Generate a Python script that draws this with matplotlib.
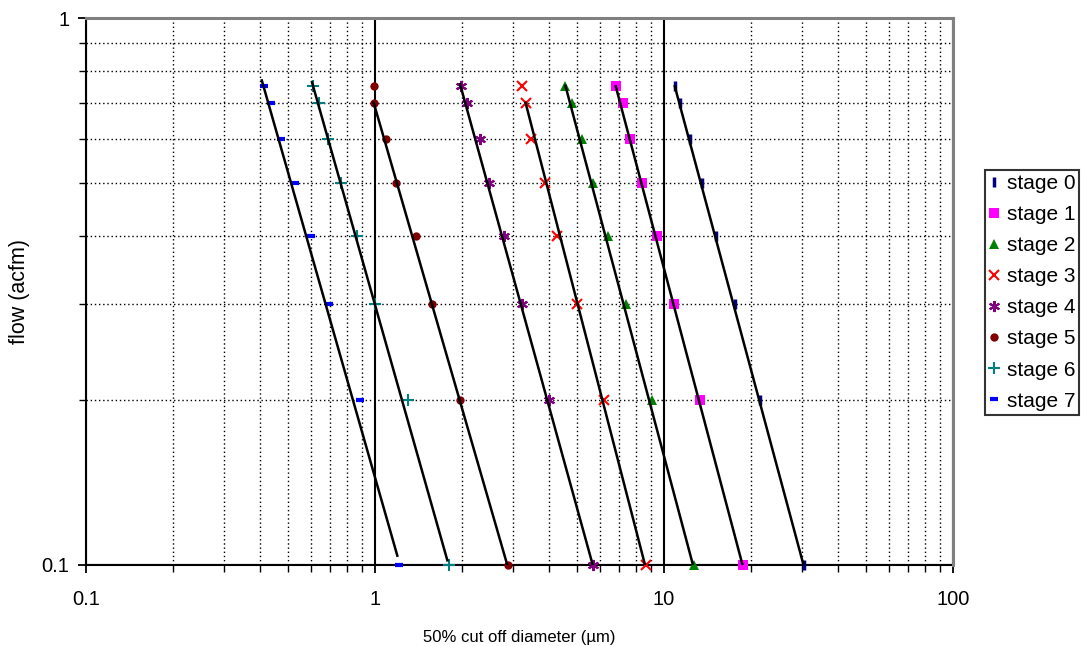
import numpy as np
import matplotlib.pyplot as plt

plt.rcParams['font.family'] = ['Liberation Sans', 'DejaVu Sans']

flow = [0.75, 0.7, 0.6, 0.5, 0.4, 0.3, 0.2, 0.1]

# 50% cut off diameter (um) read at each flow, per stage
stage0 = [10.9, 11.4, 12.3, 13.5, 15.1, 17.6, 21.5, 30.4]
stage1 = [6.81, 7.19, 7.62, 8.37, 9.43, 10.8, 13.3, 18.8]
stage2 = [4.56, 4.80, 5.22, 5.68, 6.41, 7.38, 9.07, 12.75]
stage3 = [3.22, 3.32, 3.47, 3.89, 4.26, 5.02, 6.21, 8.70]
stage4 = [1.98, 2.09, 2.30, 2.48, 2.79, 3.22, 4.00, 5.67]
stage5 = [0.995, 0.99, 1.09, 1.18, 1.39, 1.57, 1.97, 2.89]
stage6 = [0.609, 0.639, 0.688, 0.764, 0.868, 0.998, 1.30, 1.80]
stage7 = [0.414, 0.438, 0.473, 0.528, 0.599, 0.696, 0.885, 1.21]

# fitted curve end points (start / end) per stage
fit_d_start = [10.9, 6.81, 4.56, 3.32, 1.97, 0.99, 0.606, 0.406]
fit_q_start = [0.75, 0.75, 0.752, 0.70, 0.757, 0.70, 0.762, 0.769]
fit_d_end = [30.4, 18.7, 12.6, 8.6, 5.67, 2.87, 1.78, 1.195]
fit_q_end = [0.1, 0.1, 0.1, 0.1, 0.1, 0.1, 0.102, 0.104]

labels = ['stage 0', 'stage 1', 'stage 2', 'stage 3',
          'stage 4', 'stage 5', 'stage 6', 'stage 7']
stages = [stage0, stage1, stage2, stage3, stage4, stage5, stage6, stage7]

styles = [
    dict(marker='|', color='#000080', ms=7, mew=2.5),
    dict(marker='s', color='#FF00FF', ms=7, mew=0),
    dict(marker='^', color='#008000', ms=7, mew=0),
    dict(marker='x', color='#FF0000', ms=7, mew=1.5),
    dict(marker=(6, 2, 0), color='#800080', ms=8, mew=1.5),
    dict(marker='o', color='#800000', ms=6, mew=0),
    dict(marker='+', color='#008080', ms=8, mew=1.5),
    dict(marker='_', color='#0000FF', ms=6, mew=3),
]

fig = plt.figure(figsize=(10.88, 6.46), dpi=100)
ax = fig.add_axes([0.0790, 0.1254, 0.7969, 0.8467])

for i in range(8):
    ax.plot([fit_d_start[i], fit_d_end[i]], [fit_q_start[i], fit_q_end[i]],
            color='black', lw=1.8, zorder=4)

for d, lab, st in zip(stages, labels, styles):
    ax.plot(d, flow, linestyle='none', marker=st['marker'], color=st['color'],
            markersize=st['ms'], markeredgewidth=st['mew'], label=lab,
            zorder=3, clip_on=False)

ax.set_xscale('log')
ax.set_yscale('log')
ax.set_xlim(0.1, 100)
ax.set_ylim(0.1, 1)

ax.set_xticks([0.1, 1, 10, 100])
ax.set_xticklabels(['0.1', '1', '10', '100'])
ax.set_yticks([0.1, 1])
ax.set_yticklabels(['0.1', '1'])
ax.yaxis.set_minor_formatter(plt.NullFormatter())
ax.xaxis.set_minor_formatter(plt.NullFormatter())

ax.grid(True, which='major', color='black', lw=1.5, ls='-')
ax.grid(True, which='minor', color='black', lw=1.0, ls=(0, (1, 2)))
ax.set_axisbelow(True)

ax.tick_params(axis='both', which='major', direction='out', length=6,
               width=1.3, labelsize=14.5, colors='black')
ax.tick_params(axis='both', which='minor', direction='out', length=5,
               width=1.0)
ax.tick_params(axis='x', which='major', pad=12)
ax.tick_params(axis='y', which='major', pad=6)

for side in ['left', 'bottom']:
    ax.spines[side].set_color('black')
    ax.spines[side].set_linewidth(1.5)
for side in ['top', 'right']:
    ax.spines[side].set_color('#808080')
    ax.spines[side].set_linewidth(2.2)
    ax.spines[side].set_zorder(5)

ax.set_xlabel('50% cut off diameter (\u00b5m)', fontsize=12, labelpad=15)
ax.set_ylabel('flow (acfm)', fontsize=15.5, labelpad=8)

leg = fig.legend(loc='upper left', bbox_to_anchor=(0.905, 0.737),
                 fontsize=15, frameon=True, fancybox=False,
                 edgecolor='black', handlelength=0.5, handletextpad=0.35,
                 borderpad=0.2, labelspacing=0.58, borderaxespad=0)
leg.get_frame().set_linewidth(1.5)

fig.savefig('out.png', dpi=100)
